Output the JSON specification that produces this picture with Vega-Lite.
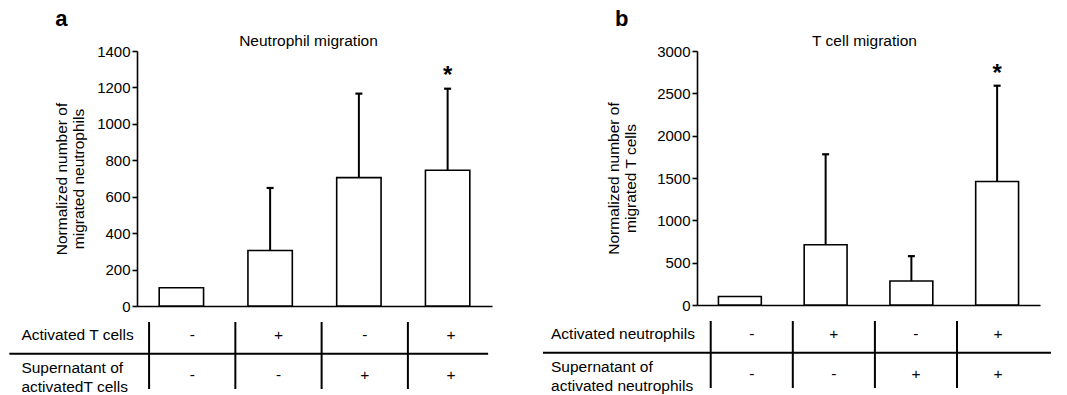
{
 "$schema": "https://vega.github.io/schema/vega-lite/v6.json",
 "padding": {"left": 8, "top": 8, "right": 4, "bottom": 0},
 "config": {
  "font": "Liberation Sans",
  "view": {"stroke": null},
  "axis": {"grid": false, "domainColor": "#000", "domainWidth": 1.6, "tickColor": "#000", "tickWidth": 1.6, "tickSize": 5, "labelColor": "#000", "labelFontSize": 15, "labelPadding": 2, "labelOverlap": false, "titleColor": "#000", "titleFontSize": 15.5, "titleFontWeight": "normal", "titleLineHeight": 17},
  "title": {"color": "#000"},
  "text": {"color": "#000"}
 },
 "datasets": {
  "barsA": [
   {"group": "1", "value": 100, "upper": null, "sig": ""},
   {"group": "2", "value": 305, "upper": 648, "sig": ""},
   {"group": "3", "value": 705, "upper": 1166, "sig": ""},
   {"group": "4", "value": 745, "upper": 1193, "sig": "*"}
  ],
  "barsB": [
   {"group": "1", "value": 100, "upper": null, "sig": ""},
   {"group": "2", "value": 712, "upper": 1780, "sig": ""},
   {"group": "3", "value": 283, "upper": 577, "sig": ""},
   {"group": "4", "value": 1458, "upper": 2590, "sig": "*"}
  ],
  "cells": [
   {"row": 1, "col": 1, "sign": "-"}, {"row": 1, "col": 2, "sign": "+"}, {"row": 1, "col": 3, "sign": "-"}, {"row": 1, "col": 4, "sign": "+"},
   {"row": 2, "col": 1, "sign": "-"}, {"row": 2, "col": 2, "sign": "-"}, {"row": 2, "col": 3, "sign": "+"}, {"row": 2, "col": 4, "sign": "+"}
  ],
  "seps": [{"x": 0.5}, {"x": 1.5}, {"x": 2.5}, {"x": 3.5}],
  "hlineA": [{"x": -1.12, "x2": 4.43, "y": 1.47}],
  "hlineB": [{"x": -1.543, "x2": 4.645, "y": 1.47}],
  "labelsA": [{"row": 1, "label": "Activated T cells"}, {"row": 2, "label": "Supernatant of\nactivatedT cells"}],
  "labelsB": [{"row": 1, "label": "Activated neutrophils"}, {"row": 2, "label": "Supernatant of\nactivated neutrophils"}]
 },
 "spacing": 49,
 "hconcat": [
  {
   "title": {"text": "a", "anchor": "start", "frame": "bounds", "fontSize": 22, "fontWeight": "bold", "dx": 47, "offset": 2.5},
   "spacing": 7,
   "vconcat": [
    {
     "width": 355, "height": 255,
     "title": {"text": "Neutrophil migration", "fontSize": 15.5, "fontWeight": "normal", "dx": -6, "offset": -5},
     "data": {"name": "barsA"},
     "encoding": {
      "x": {"field": "group", "type": "nominal", "scale": {"paddingInner": 0.5, "paddingOuter": 0.25}, "axis": {"title": null, "labels": false, "ticks": false}}
     },
     "layer": [
      {"mark": {"type": "bar", "fill": "#fff", "stroke": "#000", "strokeWidth": 1.6, "opacity": 1},
       "encoding": {"y": {"field": "value", "type": "quantitative", "scale": {"domain": [0, 1400], "nice": false}, "axis": {"values": [0, 200, 400, 600, 800, 1000, 1200, 1400], "format": "d", "title": ["Normalized number of", "migrated neutrophils"], "titlePadding": 10}}}},
      {"transform": [{"filter": "isValid(datum.upper)"}], "mark": {"type": "rule", "color": "#000", "strokeWidth": 2}, "encoding": {"y": {"field": "value", "type": "quantitative", "axis": {"values": [0, 200, 400, 600, 800, 1000, 1200, 1400], "format": "d", "title": ["Normalized number of", "migrated neutrophils"], "titlePadding": 10}}, "y2": {"field": "upper"}}},
      {"transform": [{"filter": "isValid(datum.upper)"}], "mark": {"type": "tick", "color": "#000", "size": 7, "thickness": 2.2, "opacity": 1}, "encoding": {"y": {"field": "upper", "type": "quantitative", "axis": {"values": [0, 200, 400, 600, 800, 1000, 1200, 1400], "format": "d", "title": ["Normalized number of", "migrated neutrophils"], "titlePadding": 10}}}},
      {"transform": [{"filter": "datum.sig != ''"}], "mark": {"type": "text", "fontSize": 24, "fontWeight": "bold", "baseline": "alphabetic", "dy": -6, "color": "#000"}, "encoding": {"y": {"field": "upper", "type": "quantitative", "axis": {"values": [0, 200, 400, 600, 800, 1000, 1200, 1400], "format": "d", "title": ["Normalized number of", "migrated neutrophils"], "titlePadding": 10}}, "text": {"field": "sig"}}}
     ]
    },
    {
     "width": 355, "height": 67,
     "layer": [
      {"data": {"name": "seps"}, "mark": {"type": "rule", "color": "#000", "strokeWidth": 2}, "encoding": {"x": {"field": "x", "type": "quantitative", "scale": {"domain": [0.36, 4.475], "nice": false, "zero": false}, "axis": null}}},
      {"data": {"name": "hlineA"}, "mark": {"type": "rule", "color": "#000", "strokeWidth": 2}, "encoding": {"x": {"field": "x", "type": "quantitative", "scale": {"domain": [0.36, 4.475], "nice": false, "zero": false}, "axis": null}, "x2": {"field": "x2"}, "y": {"field": "y", "type": "quantitative", "scale": {"domain": [0.675, 2.35], "nice": false, "zero": false, "reverse": true}, "axis": null}}},
      {"data": {"name": "cells"}, "mark": {"type": "text", "fontSize": 15.5, "baseline": "middle", "align": "center"}, "encoding": {"x": {"field": "col", "type": "quantitative", "scale": {"domain": [0.36, 4.475], "nice": false, "zero": false}, "axis": null}, "y": {"field": "row", "type": "quantitative", "scale": {"domain": [0.675, 2.35], "nice": false, "zero": false, "reverse": true}, "axis": null}, "text": {"field": "sign"}}},
      {"data": {"name": "labelsA"}, "transform": [{"filter": "datum.row == 1"}], "mark": {"type": "text", "fontSize": 15.5, "baseline": "middle", "align": "left"}, "encoding": {"x": {"datum": -0.98, "type": "quantitative", "scale": {"domain": [0.36, 4.475], "nice": false, "zero": false}, "axis": null}, "y": {"field": "row", "type": "quantitative", "scale": {"domain": [0.675, 2.35], "nice": false, "zero": false, "reverse": true}, "axis": null}, "text": {"field": "label"}}},
      {"data": {"name": "labelsA"}, "transform": [{"filter": "datum.row == 2"}], "mark": {"type": "text", "fontSize": 15.5, "baseline": "middle", "align": "left", "lineBreak": "\n", "lineHeight": 19, "dy": -7}, "encoding": {"x": {"datum": -0.98, "type": "quantitative", "scale": {"domain": [0.36, 4.475], "nice": false, "zero": false}, "axis": null}, "y": {"field": "row", "type": "quantitative", "scale": {"domain": [0.675, 2.35], "nice": false, "zero": false, "reverse": true}, "axis": null}, "text": {"field": "label"}}}
     ]
    }
   ]
  },
  {
   "title": {"text": "b", "anchor": "start", "frame": "bounds", "fontSize": 22, "fontWeight": "bold", "dx": 73, "offset": 2.5},
   "spacing": 7,
   "vconcat": [
    {
     "width": 343, "height": 254,
     "title": {"text": "T cell migration", "fontSize": 15.5, "fontWeight": "normal", "dx": -4, "offset": -5},
     "data": {"name": "barsB"},
     "encoding": {
      "x": {"field": "group", "type": "nominal", "scale": {"paddingInner": 0.5, "paddingOuter": 0.25}, "axis": {"title": null, "labels": false, "ticks": false}}
     },
     "layer": [
      {"mark": {"type": "bar", "fill": "#fff", "stroke": "#000", "strokeWidth": 1.6, "opacity": 1},
       "encoding": {"y": {"field": "value", "type": "quantitative", "scale": {"domain": [0, 3000], "nice": false}, "axis": {"values": [0, 500, 1000, 1500, 2000, 2500, 3000], "format": "d", "title": ["Normalized number of", "migrated T cells"], "titlePadding": 18}}}},
      {"transform": [{"filter": "isValid(datum.upper)"}], "mark": {"type": "rule", "color": "#000", "strokeWidth": 2}, "encoding": {"y": {"field": "value", "type": "quantitative", "axis": {"values": [0, 500, 1000, 1500, 2000, 2500, 3000], "format": "d", "title": ["Normalized number of", "migrated T cells"], "titlePadding": 18}}, "y2": {"field": "upper"}}},
      {"transform": [{"filter": "isValid(datum.upper)"}], "mark": {"type": "tick", "color": "#000", "size": 7, "thickness": 2.2, "opacity": 1}, "encoding": {"y": {"field": "upper", "type": "quantitative", "axis": {"values": [0, 500, 1000, 1500, 2000, 2500, 3000], "format": "d", "title": ["Normalized number of", "migrated T cells"], "titlePadding": 18}}}},
      {"transform": [{"filter": "datum.sig != ''"}], "mark": {"type": "text", "fontSize": 24, "fontWeight": "bold", "baseline": "alphabetic", "dy": -5, "color": "#000"}, "encoding": {"y": {"field": "upper", "type": "quantitative", "axis": {"values": [0, 500, 1000, 1500, 2000, 2500, 3000], "format": "d", "title": ["Normalized number of", "migrated T cells"], "titlePadding": 18}}, "text": {"field": "sig"}}}
     ]
    },
    {
     "width": 343, "height": 67,
     "layer": [
      {"data": {"name": "seps"}, "mark": {"type": "rule", "color": "#000", "strokeWidth": 2}, "encoding": {"x": {"field": "x", "type": "quantitative", "scale": {"domain": [0.333, 4.511], "nice": false, "zero": false}, "axis": null}}},
      {"data": {"name": "hlineB"}, "mark": {"type": "rule", "color": "#000", "strokeWidth": 2}, "encoding": {"x": {"field": "x", "type": "quantitative", "scale": {"domain": [0.333, 4.511], "nice": false, "zero": false}, "axis": null}, "x2": {"field": "x2"}, "y": {"field": "y", "type": "quantitative", "scale": {"domain": [0.675, 2.35], "nice": false, "zero": false, "reverse": true}, "axis": null}}},
      {"data": {"name": "cells"}, "mark": {"type": "text", "fontSize": 15.5, "baseline": "middle", "align": "center"}, "encoding": {"x": {"field": "col", "type": "quantitative", "scale": {"domain": [0.333, 4.511], "nice": false, "zero": false}, "axis": null}, "y": {"field": "row", "type": "quantitative", "scale": {"domain": [0.675, 2.35], "nice": false, "zero": false, "reverse": true}, "axis": null}, "text": {"field": "sign"}}},
      {"data": {"name": "labelsB"}, "transform": [{"filter": "datum.row == 1"}], "mark": {"type": "text", "fontSize": 15.5, "baseline": "middle", "align": "left"}, "encoding": {"x": {"datum": -1.445, "type": "quantitative", "scale": {"domain": [0.333, 4.511], "nice": false, "zero": false}, "axis": null}, "y": {"field": "row", "type": "quantitative", "scale": {"domain": [0.675, 2.35], "nice": false, "zero": false, "reverse": true}, "axis": null}, "text": {"field": "label"}}},
      {"data": {"name": "labelsB"}, "transform": [{"filter": "datum.row == 2"}], "mark": {"type": "text", "fontSize": 15.5, "baseline": "middle", "align": "left", "lineBreak": "\n", "lineHeight": 19, "dy": -7}, "encoding": {"x": {"datum": -1.445, "type": "quantitative", "scale": {"domain": [0.333, 4.511], "nice": false, "zero": false}, "axis": null}, "y": {"field": "row", "type": "quantitative", "scale": {"domain": [0.675, 2.35], "nice": false, "zero": false, "reverse": true}, "axis": null}, "text": {"field": "label"}}}
     ]
    }
   ]
  }
 ]
}
